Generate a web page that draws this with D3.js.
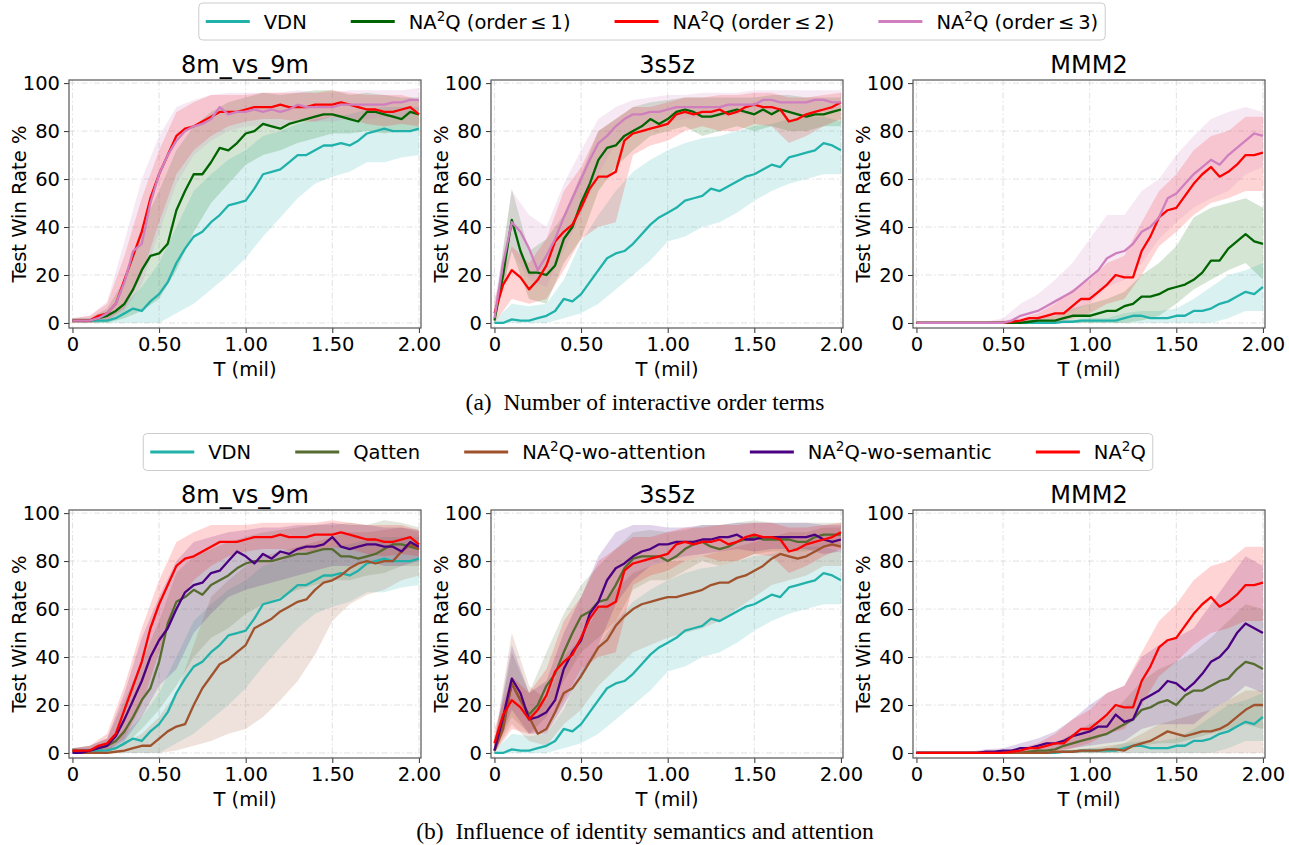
<!DOCTYPE html>
<html>
<head>
<meta charset="utf-8">
<script src="https://cdn.jsdelivr.net/npm/d3@7"></script>
<style>
  body { margin: 0; background: #fff; }
  svg { display: block; }
</style>
</head>
<body>
<div id="chart"></div>
<script>
// Figure size
const WIDTH = 1289;
const HEIGHT = 845;

// Sampling grids for the curves (mean every 0.05 mil, band every 0.1 mil)
const T_MEAN = d3.range(41).map(i => i * 0.05);
const T_BAND = d3.range(21).map(i => i * 0.1);

// Ticks
const X_TICKS = [0, 0.5, 1, 1.5, 2];
const X_TICK_LABELS = ["0", "0.50", "1.00", "1.50", "2.00"];
const Y_TICKS = [0, 20, 40, 60, 80, 100];

const MAPS = ["8m_vs_9m", "3s5z", "MMM2"];

// ---- 8m_vs_9m ----
const VDN_8M = [1,1,1,1,1,2,4,6,5,9, 12,17,25,31,36,38,42,45,49,50, 51,56,62,63,64,67,70,70,72,74, 74,75,74,76,79,80,81,80,80,80, 81];
const VDN_8M_LO = [0,0,0,0,0,0,4,8,14,20,27,36,44,52,58,61,63,67,67,69,70];
const VDN_8M_HI = [2,2,3,8,15,25,40,55,62,68,72,78,80,83,85,86,87,89,90,90,90];
const NA1_8M = [1,1,1,2,3,5,8,14,22,28, 29,33,47,55,62,62,67,73,72,75, 79,80,83,82,81,83,84,85,86,87, 87,86,85,84,88,88,87,86,85,88, 87];
const NA1_8M_LO = [0,0,0,2,5,10,22,38,50,58,66,70,72,75,77,79,79,80,79,80,80];
const NA1_8M_HI = [2,2,6,18,40,55,72,82,88,92,94,96,95,96,97,97,95,96,95,94,94];
const NA2_8M = [1,1,1,3,4,8,18,28,38,52, 62,70,78,81,82,84,86,88,88,88, 89,90,90,90,91,90,90,90,91,91, 91,92,91,90,89,89,88,88,89,90, 87];
const NA2_8M_LO = [0,0,1,6,20,42,62,72,78,82,84,85,85,84,84,86,85,83,82,83,82];
const NA2_8M_HI = [2,3,8,28,52,72,88,92,95,95,95,96,96,96,96,97,96,95,95,95,93];
const NA3_8M = [1,1,1,2,4,8,17,30,33,50, 62,70,76,80,82,83,85,90,87,88, 88,89,88,89,88,89,91,90,90,90, 90,91,91,91,91,91,91,92,92,93, 93];
const NA3_8M_LO = [0,0,1,5,16,38,58,70,76,80,82,82,82,85,84,84,85,85,86,86,88];
const NA3_8M_HI = [2,3,9,34,60,78,90,93,95,96,96,96,96,97,96,96,97,97,97,97,98];
const QAT_8M = [1,1,1,2,3,5,9,15,22,27, 38,54,63,65,68,66,70,72,74,77, 79,80,80,80,81,82,83,83,84,85, 85,82,82,81,82,83,85,87,87,86, 85];
const QAT_8M_LO = [0,0,1,3,10,18,28,40,48,52,58,62,65,68,70,72,72,74,75,78,78];
const QAT_8M_HI = [2,3,6,22,38,55,75,82,85,88,90,92,93,94,95,95,96,95,97,96,94];
const WATT_8M = [1,0,0,0,0,0.5,1,2,3,3, 6,9,11,12,20,27,32,37,39,42, 45,52,54,56,59,61,63,64,68,71, 72,74,77,79,80,79,80,80,84,87, 85];
const WATT_8M_LO = [0,0,0,0,0,0,1,3,5,8,10,15,22,30,41,55,62,66,68,72,74];
const WATT_8M_HI = [2,1,2,4,8,15,25,45,65,72,78,82,84,86,88,90,92,92,93,94,92];
const WSEM_8M = [0,0,1,2,3,7,14,22,30,40, 47,52,60,67,70,71,75,76,80,84, 82,79,83,81,84,83,85,86,86,87, 90,86,85,86,87,87,86,86,84,88, 86];
const WSEM_8M_LO = [0,0,1,5,15,28,35,50,58,65,68,70,72,74,76,78,78,80,78,78,80];
const WSEM_8M_HI = [2,3,6,25,48,65,80,88,90,92,93,94,94,95,95,96,95,95,94,94,93];

// ---- 3s5z ----
const VDN_3S = [0,0,1.5,1,1,2,3,5,10,9, 12,17,22,27,29,30,33,37,41,44, 46,48,51,52,53,56,55,57,59,61, 62,64,66,65,69,70,71,72,75,74, 72];
const VDN_3S_LO = [0,0,0,0,2,4,8,14,20,26,34,36,40,42,46,51,55,58,60,62,62];
const VDN_3S_HI = [1,8,7,8,18,34,45,55,63,68,72,75,77,78,80,82,83,85,86,86,84];
const NA1_3S = [1,20,43,30,21,21,20,24,35,40, 50,58,68,73,74,78,80,82,85,83, 85,88,89,88,86,86,87,88,89,88, 87,89,87,89,88,87,86,87,87,88, 89];
const NA1_3S_LO = [0,30,10,8,25,35,55,65,72,78,80,82,78,80,82,80,82,80,80,82,82];
const NA1_3S_HI = [5,56,30,35,45,62,80,85,90,92,93,94,94,94,94,94,95,95,94,94,94];
const NA2_3S = [4,16,22,19,14,18,24,34,38,41, 48,56,61,61,63,76,79,80,81,82, 83,87,88,87,88,88,89,87,88,90, 91,90,90,89,84,85,87,88,89,90, 92];
const NA2_3S_LO = [0,10,8,10,22,35,40,42,70,74,76,80,82,80,80,83,82,75,78,82,85];
const NA2_3S_HI = [10,32,25,35,55,65,80,85,90,90,92,94,94,95,95,96,96,94,94,95,96];
const NA3_3S = [2,25,42,38,31,22,28,35,44,52, 60,68,75,78,82,85,87,87,88,88, 89,90,90,90,90,90,90,91,91,91, 91,93,93,92,92,92,92,93,93,92, 92];
const NA3_3S_LO = [0,30,18,15,30,45,62,75,80,82,84,85,86,86,87,87,88,88,87,88,88];
const NA3_3S_HI = [8,55,45,40,58,72,85,90,93,94,95,95,96,96,96,97,97,97,97,97,97];
const QAT_3S = [1,12,29,22,16,20,28,33,42,50, 57,59,63,64,70,77,81,82,82,82, 80,82,85,87,88,86,85,86,88,89, 90,89,89,89,89,88,88,90,91,91, 91];
const QAT_3S_LO = [0,15,8,15,30,42,48,55,68,72,72,76,80,78,80,83,84,84,84,86,86];
const QAT_3S_HI = [5,42,25,42,58,70,78,85,92,93,92,93,95,95,96,97,96,96,96,96,96];
const WATT_3S = [1,10,29,22,15,8,10,17,25,27, 32,38,44,47,53,57,60,62,63,64, 65,65,66,67,68,70,71,71,73,74, 76,78,81,83,82,81,82,84,86,87, 86];
const WATT_3S_LO = [0,12,5,3,12,18,28,35,42,45,48,50,52,55,60,65,70,72,74,78,78];
const WATT_3S_HI = [5,50,28,22,40,48,60,68,75,78,80,80,82,84,86,88,90,92,92,94,94];
const WSEM_3S = [1,15,31,25,14,15,17,22,35,42, 47,58,63,72,77,79,82,84,85,87, 87,88,88,88,89,89,90,90,91,89, 89,90,90,90,90,90,90,91,89,88, 89];
const WSEM_3S_LO = [0,18,8,8,20,32,45,62,72,78,80,82,83,84,85,84,85,85,85,83,84];
const WSEM_3S_HI = [5,45,25,30,50,65,82,92,95,95,94,94,95,95,96,96,96,96,96,95,95];

// ---- MMM2 ----
const VDN_MM = [0,0,0,0,0,0,0,0,0,0, 0,0,0,0,0,0,0,0.5,0.5,1, 1,1,1,1,2,3,3,2,2,2, 3,3,5,5,6,8,9,11,13,12, 15];
const VDN_MM_LO = [0,0,0,0,0,0,0,0,0,0,0,0,0,0,0,0,0,0,2,5,5];
const VDN_MM_HI = [0.5,0.5,0.5,0.5,0.5,0.5,0.5,0.5,0.5,1,2,2,4,5,5,6,10,15,20,22,25];
const NA1_MM = [0,0,0,0,0,0,0,0,0,0, 0,0,0,0.5,1,1,1,2,3,3, 3,4,5,5,7,8,11,11,12,14, 15,16,18,21,26,26,31,34,37,34, 33];
const NA1_MM_LO = [0,0,0,0,0,0,0,0,0,0,0,0,0,1,3,8,14,18,22,25,18];
const NA1_MM_HI = [0.5,0.5,0.5,0.5,0.5,0.5,1,2,3,6,8,10,13,20,25,32,44,48,50,52,48];
const NA2_MM = [0,0,0,0,0,0,0,0,0,0, 0,0.5,1,2,2,3,4,4,7,10, 10,13,16,20,19,19,30,36,44,47, 48,53,58,62,65,61,63,66,70,70, 71];
const NA2_MM_LO = [0,0,0,0,0,0,0,0,0,2,4,8,10,20,32,38,45,50,52,55,55];
const NA2_MM_HI = [0.5,0.5,0.5,0.5,0.5,1,2,4,8,14,18,25,28,42,55,62,72,78,80,86,86];
const NA3_MM = [0,0,0,0,0,0,0,0,0,0, 0,1,3,4,5,7,9,11,13,16, 19,22,27,29,30,33,38,40,44,52, 54,58,62,65,68,66,70,73,76,79, 78];
const NA3_MM_LO = [0,0,0,0,0,0,0,1,3,5,8,15,18,25,35,42,48,52,55,62,65];
const NA3_MM_HI = [0.5,0.5,0.5,0.5,0.5,2,8,12,18,25,35,45,45,55,60,70,78,85,88,90,88];
const QAT_MM = [0,0,0,0,0,0,0,0,0,0, 0,0,0,0.5,1,1,1.5,3,4,5, 6,7,8,10,12,14,18,19,21,22, 20,24,26,26,28,30,31,35,38,37, 35];
const QAT_MM_LO = [0,0,0,0,0,0,0,0,0,0,0,0,1,3,4,4,6,8,10,12,10];
const QAT_MM_HI = [0.5,0.5,0.5,0.5,0.5,0.5,0.5,2,4,8,12,15,22,30,35,38,42,48,55,62,60];
const WATT_MM = [0,0,0,0,0,0,0,0,0,0, 0,0,0,0,0,0,0.5,0.5,0.5,1, 1,1,1.5,1.5,1,3,4,5,7,9, 8,7,8,9,9,10,12,15,18,20, 20];
const WATT_MM_LO = [0,0,0,0,0,0,0,0,0,0,0,0,0,0,0,0,0,0,0,0,0];
const WATT_MM_HI = [0.5,0.5,0.5,0.5,0.5,0.5,0.5,0.5,0.5,1.5,2,3,4,8,12,14,16,18,22,26,26];
const WSEM_MM = [0,0,0,0,0,0,0,0,0.5,0.5, 1,1,2,2,3,4,4,5,7,8, 9,11,11,16,13,14,22,24,26,30, 29,26,29,33,38,40,44,50,54,52, 50];
const WSEM_MM_LO = [0,0,0,0,0,0,0,0,1,2,3,4,5,10,12,12,12,18,22,28,25];
const WSEM_MM_HI = [0.5,0.5,0.5,0.5,1.5,2,4,6,9,14,20,25,28,40,45,48,52,62,72,82,78];

// Method colours
const COLOUR = {
    vdn: "#20b2aa",
    na1: "#006400",
    na2: "#ff0000",
    na3: "#cf7fbe",
    qat: "#556b2f",
    watt: "#a0522d",
    wsem: "#4b0082"
};

// Legend entries (label split around the superscript "2")
const LEGEND_TOP = [
    {c: COLOUR.vdn, pre: "VDN"},
    {c: COLOUR.na1, pre: "NA", sup: "2", post: "Q (order\u2009\u2264\u20091)"},
    {c: COLOUR.na2, pre: "NA", sup: "2", post: "Q (order\u2009\u2264\u20092)"},
    {c: COLOUR.na3, pre: "NA", sup: "2", post: "Q (order\u2009\u2264\u20093)"}
];
const LEGEND_BOTTOM = [
    {c: COLOUR.vdn, pre: "VDN"},
    {c: COLOUR.qat, pre: "Qatten"},
    {c: COLOUR.watt, pre: "NA", sup: "2", post: "Q-wo-attention"},
    {c: COLOUR.wsem, pre: "NA", sup: "2", post: "Q-wo-semantic"},
    {c: COLOUR.na2, pre: "NA", sup: "2", post: "Q"}
];

// Layout
const COL_LEFT = [69, 491, 913];
const ROW_TOP = [80, 510];
const PLOT_W = 352;
const PLOT_H = 248;
const FONT = "DejaVu Sans, sans-serif";

const s = (c, m, lo, hi) => ({c, m, lo, hi});
const panels = [
    {row: 0, col: 0, title: MAPS[0], series: [s(COLOUR.vdn, VDN_8M, VDN_8M_LO, VDN_8M_HI), s(COLOUR.na1, NA1_8M, NA1_8M_LO, NA1_8M_HI), s(COLOUR.na2, NA2_8M, NA2_8M_LO, NA2_8M_HI), s(COLOUR.na3, NA3_8M, NA3_8M_LO, NA3_8M_HI)]},
    {row: 0, col: 1, title: MAPS[1], series: [s(COLOUR.vdn, VDN_3S, VDN_3S_LO, VDN_3S_HI), s(COLOUR.na1, NA1_3S, NA1_3S_LO, NA1_3S_HI), s(COLOUR.na2, NA2_3S, NA2_3S_LO, NA2_3S_HI), s(COLOUR.na3, NA3_3S, NA3_3S_LO, NA3_3S_HI)]},
    {row: 0, col: 2, title: MAPS[2], series: [s(COLOUR.vdn, VDN_MM, VDN_MM_LO, VDN_MM_HI), s(COLOUR.na1, NA1_MM, NA1_MM_LO, NA1_MM_HI), s(COLOUR.na2, NA2_MM, NA2_MM_LO, NA2_MM_HI), s(COLOUR.na3, NA3_MM, NA3_MM_LO, NA3_MM_HI)]},
    {row: 1, col: 0, title: MAPS[0], series: [s(COLOUR.vdn, VDN_8M, VDN_8M_LO, VDN_8M_HI), s(COLOUR.qat, QAT_8M, QAT_8M_LO, QAT_8M_HI), s(COLOUR.watt, WATT_8M, WATT_8M_LO, WATT_8M_HI), s(COLOUR.wsem, WSEM_8M, WSEM_8M_LO, WSEM_8M_HI), s(COLOUR.na2, NA2_8M, NA2_8M_LO, NA2_8M_HI)]},
    {row: 1, col: 1, title: MAPS[1], series: [s(COLOUR.vdn, VDN_3S, VDN_3S_LO, VDN_3S_HI), s(COLOUR.qat, QAT_3S, QAT_3S_LO, QAT_3S_HI), s(COLOUR.watt, WATT_3S, WATT_3S_LO, WATT_3S_HI), s(COLOUR.wsem, WSEM_3S, WSEM_3S_LO, WSEM_3S_HI), s(COLOUR.na2, NA2_3S, NA2_3S_LO, NA2_3S_HI)]},
    {row: 1, col: 2, title: MAPS[2], series: [s(COLOUR.vdn, VDN_MM, VDN_MM_LO, VDN_MM_HI), s(COLOUR.qat, QAT_MM, QAT_MM_LO, QAT_MM_HI), s(COLOUR.watt, WATT_MM, WATT_MM_LO, WATT_MM_HI), s(COLOUR.wsem, WSEM_MM, WSEM_MM_LO, WSEM_MM_HI), s(COLOUR.na2, NA2_MM, NA2_MM_LO, NA2_MM_HI)]}
];

const svg = d3.select("#chart")
    .append("svg")
    .attr("width", WIDTH)
    .attr("height", HEIGHT)
    .style("font-family", FONT);

// Shared scales (each panel is translated into place)
const x = d3.scaleLinear().domain([-0.02, 2.012]).range([0, PLOT_W]);
const y = d3.scaleLinear().domain([-2.1, 101.3]).range([PLOT_H, 0]);

const line = d3.line()
    .x((d, i) => x(T_MEAN[i]))
    .y(d => y(d));

const area = d3.area()
    .x((d, i) => x(T_BAND[i]))
    .y0(d => y(d[0]))
    .y1(d => y(d[1]));

panels.forEach((p, k) => {
    const g = svg.append("g")
        .attr("transform", `translate(${COL_LEFT[p.col]},${ROW_TOP[p.row]})`);

    g.append("clipPath").attr("id", `clip${k}`)
        .append("rect").attr("width", PLOT_W).attr("height", PLOT_H);

    // grid (dash-dot)
    const grid = g.append("g").attr("stroke", "#d9d9d9").attr("stroke-width", 0.8)
        .attr("stroke-dasharray", "6,2.5,1.5,2.5");
    grid.selectAll(".gx").data(X_TICKS).join("line")
        .attr("x1", d => x(d)).attr("x2", d => x(d))
        .attr("y1", 0).attr("y2", PLOT_H);
    grid.selectAll(".gy").data(Y_TICKS).join("line")
        .attr("x1", 0).attr("x2", PLOT_W)
        .attr("y1", d => y(d)).attr("y2", d => y(d));

    const plot = g.append("g").attr("clip-path", `url(#clip${k})`);

    // shaded bands first, then mean curves
    p.series.forEach(sr => {
        plot.append("path")
            .datum(sr.lo.map((v, i) => [v, sr.hi[i]]))
            .attr("d", area)
            .attr("fill", sr.c)
            .attr("fill-opacity", 0.17)
            .attr("stroke", "none");
    });
    p.series.forEach(sr => {
        plot.append("path")
            .datum(sr.m)
            .attr("d", line)
            .attr("fill", "none")
            .attr("stroke", sr.c)
            .attr("stroke-width", 2.3)
            .attr("stroke-linejoin", "round");
    });

    // axes
    const xAxis = d3.axisBottom(x).tickValues(X_TICKS)
        .tickFormat((d, i) => X_TICK_LABELS[i]).tickSize(5).tickPadding(4);
    const yAxis = d3.axisLeft(y).tickValues(Y_TICKS).tickSize(5).tickPadding(4);

    const gx = g.append("g").attr("transform", `translate(0,${PLOT_H})`).call(xAxis);
    const gy = g.append("g").call(yAxis);
    [gx, gy].forEach(ax => {
        ax.select(".domain").remove();
        ax.selectAll("line").attr("stroke", "#333").attr("stroke-width", 1);
        ax.selectAll("text").attr("fill", "#000")
            .style("font-size", "19.5px").style("font-family", FONT);
    });

    // frame
    g.append("rect")
        .attr("width", PLOT_W).attr("height", PLOT_H)
        .attr("fill", "none").attr("stroke", "#555").attr("stroke-width", 1.2);

    // title and labels
    g.append("text")
        .attr("x", PLOT_W / 2).attr("y", -7)
        .attr("text-anchor", "middle")
        .style("font-size", "24px")
        .text(p.title);

    g.append("text")
        .attr("x", PLOT_W / 2).attr("y", PLOT_H + 48)
        .attr("text-anchor", "middle")
        .style("font-size", "19.5px")
        .text("T (mil)");

    g.append("text")
        .attr("transform", `translate(-50,${PLOT_H / 2}) rotate(-90)`)
        .attr("text-anchor", "middle")
        .attr("dy", "0.35em")
        .style("font-size", "19.5px")
        .text("Test Win Rate %");
});

// Writes "NA²Q..." style labels into a text element
function writeLabel(t, it) {
    t.append("tspan").text(it.pre);
    if (it.sup) {
        t.append("tspan").attr("dy", -8).style("font-size", "13.5px").text(it.sup);
        t.append("tspan").attr("dy", 8).text(it.post);
    }
}

function drawLegend(items, cx, cy) {
    const HANDLE = 44, PAD = 14, GAP = 44, BOX_PAD = 7, BOX_H = 37;
    const g = svg.append("g");
    const box = g.append("rect");
    const inner = g.append("g");
    let pos = 0;
    items.forEach(it => {
        const ig = inner.append("g").attr("transform", `translate(${pos},0)`);
        ig.append("line")
            .attr("x1", 0).attr("x2", HANDLE)
            .attr("stroke", it.c).attr("stroke-width", 3);
        const t = ig.append("text")
            .attr("x", HANDLE + PAD).attr("y", 7)
            .style("font-size", "19.5px");
        writeLabel(t, it);
        pos += HANDLE + PAD + t.node().getComputedTextLength() + GAP;
    });
    const total = pos - GAP;
    const left = cx - total / 2;
    inner.attr("transform", `translate(${left},${cy})`);
    box.attr("x", left - BOX_PAD).attr("y", cy - BOX_H / 2)
        .attr("width", total + 2 * BOX_PAD).attr("height", BOX_H)
        .attr("rx", 4)
        .attr("fill", "#fff").attr("stroke", "#ccc").attr("stroke-width", 1);
}

drawLegend(LEGEND_TOP, 652, 21.5);
drawLegend(LEGEND_BOTTOM, 648, 452);

// Sub-figure captions
const CAPTIONS = ["(a)  Number of interactive order terms", "(b)  Influence of identity semantics and attention"];
svg.selectAll(".caption").data(CAPTIONS).join("text")
    .attr("class", "caption")
    .attr("x", 645)
    .attr("y", (d, i) => [410, 839][i])
    .attr("text-anchor", "middle")
    .style("font-family", "Liberation Serif, Times New Roman, serif")
    .style("font-size", "23.5px")
    .style("white-space", "pre")
    .text(d => d);
</script>
</body>
</html>
